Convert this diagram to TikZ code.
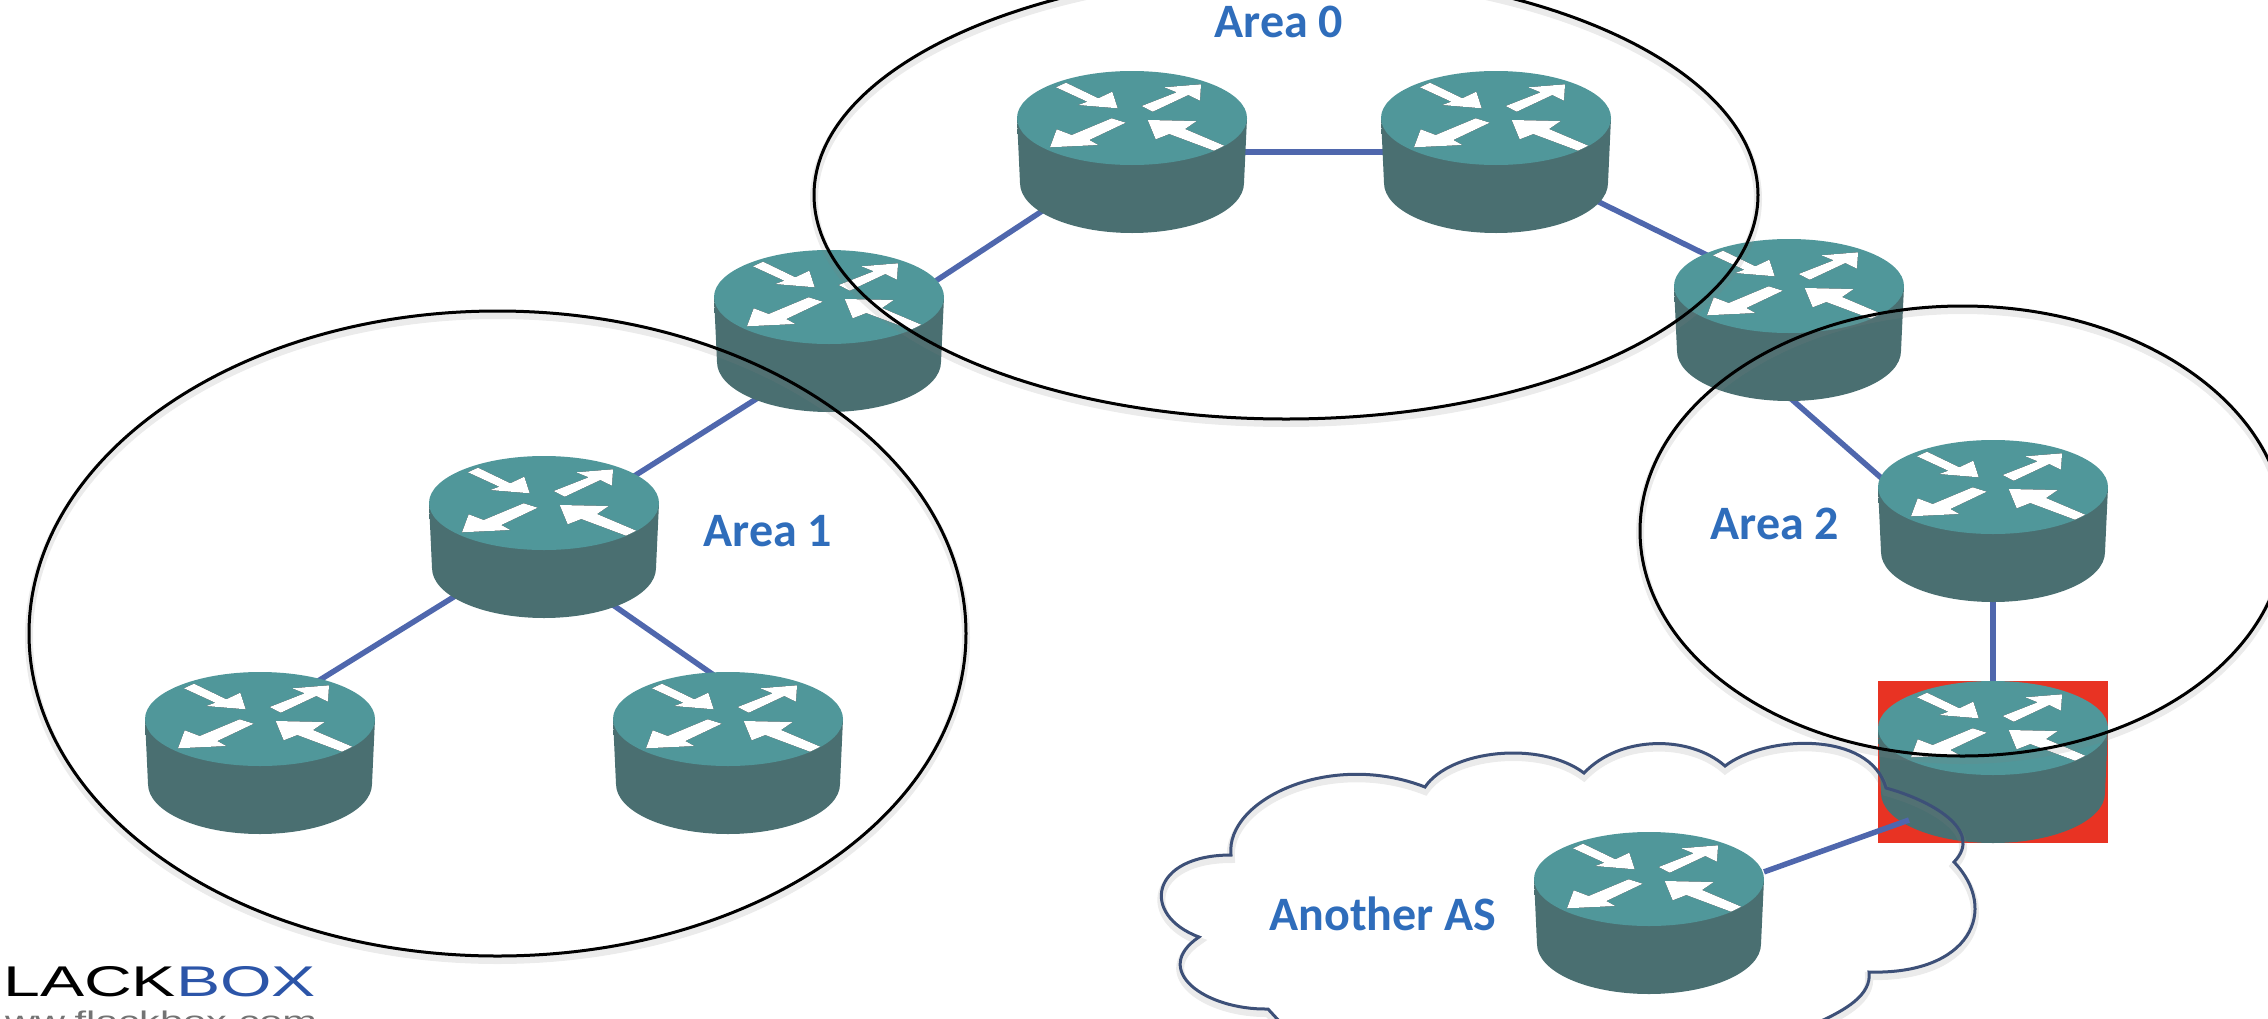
\documentclass[tikz,border=0pt]{standalone}
\usepackage{fontspec}
\setmainfont{Carlito}
\newfontfamily\logofont[FakeStretch=1.54]{Liberation Sans}
\usetikzlibrary{shapes.geometric, positioning}
\definecolor{routertop}{HTML}{50979A}
\definecolor{routerdark}{HTML}{4A6F71}
\definecolor{linkblue}{HTML}{4F67AD}
\definecolor{areablue}{HTML}{2F6DBB}
\definecolor{logoblue}{HTML}{2C55A8}
\definecolor{cloudline}{HTML}{3D5078}
\definecolor{markred}{HTML}{E83323}
\pgfdeclarelayer{links}
\pgfsetlayers{links,main}

\newcommand{\routerarrow}[1]{
  \fill[black] [shift={(-1,-2)}] #1 -- cycle;
  \fill[white] #1 -- cycle;
}
\newcommand{\routerface}{
  \begin{scope}[shift={(path picture bounding box.center)}]
    \shade[left color=routerdark, middle color=routertop, right color=routerdark]
      (-115,-34) -- (-112,31) arc[start angle=180, end angle=0, x radius=112, y radius=50] -- (115,-34) -- cycle;
    \fill[routertop] (0,-34) ellipse[x radius=115, y radius=47];
    \routerarrow{(-76,-64.7) -- (-66,-69.3) -- (-33.7,-53.7) -- (-19.7,-60.3) -- (-14.3,-43.7) -- (-53.7,-47) -- (-44.7,-50.3)}
    \routerarrow{(9.7,-46) -- (44.7,-59.7) -- (32.3,-64.7) -- (69,-67.7) -- (68,-51.3) -- (56.3,-57) -- (20.7,-40.3)}
    \routerarrow{(-20.3,-33.7) -- (-6.3,-29.3) -- (-42.7,-12) -- (-33.7,-7) -- (-82,-4.7) -- (-75.3,-22.7) -- (-60.3,-17)}
    \routerarrow{(15.7,-32) -- (64.7,-31) -- (53,-23) -- (92.3,-6.3) -- (82,-1.3) -- (37.3,-18) -- (23.7,-12.7)}
  \end{scope}
}
\tikzset{
  router/.style={rectangle, minimum width=230pt, minimum height=162pt, inner sep=0pt, outer sep=0pt, path picture={\routerface}},
  marker/.style={rectangle, fill=markred, minimum width=230pt, minimum height=162pt, inner sep=0pt},
  softedge/.style={preaction={draw=gray, draw opacity=.16, line width=8pt, transform canvas={yshift=-4pt}}},
  area/.style={ellipse, draw=black, line width=3pt, inner sep=0pt, outer sep=0pt, softedge},
  link/.style={draw=linkblue, line width=5.5pt},
  label/.style={font=\fontsize{48}{48}\selectfont\bfseries, text=areablue, inner sep=0pt},
}

\begin{document}
\begin{tikzpicture}[x=1pt, y=-1pt]
\useasboundingbox (0,0) rectangle (2268,1018);

% Routers
\node[marker] (asbrmark) at (1993,762) {};
\node[router] (zeroleft) at (1132,152) {};
\node[router] (zeroright) at (1496,152) {};
\node[router] (abrleft) at (829,331) {};
\node[router] (abrright) at (1789,320) {};
\node[router] (onetop) at (544,537) {};
\node[router] (oneleft) at (260,753) {};
\node[router] (oneright) at (728,753) {};
\node[router] (twotop) at (1993,521) {};
\node[router] (asbr) at (1993,762) {};
\coordinate (asbrend) at (1909,820);

% Links
\begin{pgfonlayer}{links}
\draw[link] (zeroleft.center) -- (zeroright.center);
\draw[link] ([shift={(0,20)}]abrleft.center) -- (zeroleft.center);
\draw[link] ([shift={(52,25)}]zeroright.center) -- ([shift={(-68,-58)}]abrright.center);
\draw[link] ([shift={(0,77)}]abrright.center) -- ([shift={(0,55)}]twotop.center);
\draw[link] ([shift={(0,22)}]abrleft.center) -- ([shift={(0,-4)}]onetop.center);
\draw[link] ([shift={(0,4)}]onetop.center) -- ([shift={(0,-36)}]oneleft.center);
\draw[link] ([shift={(0,20)}]onetop.center) -- ([shift={(0,-68)}]oneright.center);
\draw[link] (twotop.center) -- (asbr.center);
\end{pgfonlayer}

\node[router] (another) at (1649,913) {};
\draw[link] (another) -- (asbrend);

% Areas
\node[area, minimum width=944pt, minimum height=448pt] (area0) at (1286,195) {};
\node[area, minimum width=937pt, minimum height=645pt] (area1) at (497.5,633.5) {};
\node[area, minimum width=645pt, minimum height=450pt] (area2) at (1962.5,531) {};

% Cloud
\draw[draw=cloudline, line width=3pt, softedge, line join=miter]
  (1231,855) .. controls (1225,800) and (1330,750) .. (1425,787)
  .. controls (1450,750) and (1540,740) .. (1584,773)
  .. controls (1620,735) and (1690,735) .. (1725,766)
  .. controls (1765,735) and (1870,730) .. (1886,788)
  .. controls (1930,800) and (1985,830) .. (1954,862)
  .. controls (2000,910) and (1970,975) .. (1869,972)
  .. controls (1872,995) and (1845,1010) .. (1819,1022)
  -- (1280,1022) -- (1268,1009)
  .. controls (1205,1010) and (1150,970) .. (1199,937)
  .. controls (1140,915) and (1150,855) .. cycle;

% Labels
\node[label] (lblzero) at (1279,22) {Area 0};
\node[label] (lblone) at (768,531) {Area 1};
\node[label] (lbltwo) at (1775,524) {Area 2};
\node[label] (lblas) at (1383,914) {Another AS};
\node[anchor=base west, inner sep=0pt, font=\logofont\fontsize{43}{43}\selectfont] (logo) at (3,996) {LACK\textcolor{logoblue}{BOX}};
\node[anchor=base west, inner sep=0pt, text=gray!90!black, font=\logofont\fontsize{27}{27}\selectfont] (logourl) at (5,1030) {ww.flackbox.com};

\end{tikzpicture}
\end{document}
